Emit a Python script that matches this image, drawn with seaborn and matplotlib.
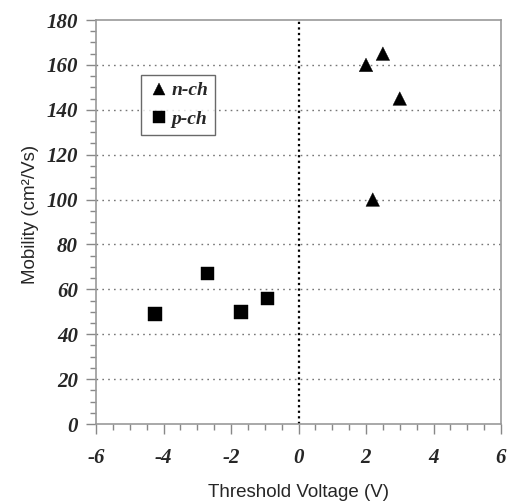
import matplotlib
matplotlib.use("Agg")
import matplotlib.pyplot as plt
import seaborn as sns
import pandas as pd
from matplotlib.ticker import MultipleLocator
from matplotlib.font_manager import FontProperties

# Data
n_vt = [2.0, 2.5, 3.0, 2.2]
n_mu = [160, 165, 145, 100]
p_vt = [-4.25, -2.7, -1.7, -0.92]
p_mu = [49, 67, 50, 56]
series_names = ["n-ch", "p-ch"]
x_ticks = [-6, -4, -2, 0, 2, 4, 6]
y_ticks = [0, 20, 40, 60, 80, 100, 120, 140, 160, 180]

df = pd.DataFrame({
    "vt": n_vt + p_vt,
    "mu": n_mu + p_mu,
    "type": [series_names[0]] * len(n_vt) + [series_names[1]] * len(p_vt),
})

sns.set_style("white")
fig = plt.figure(figsize=(5.09, 5.03), dpi=100)
ax = fig.add_axes([96 / 509, 1 - 424 / 503, 405 / 509, 404 / 503])

# grid lines
for yv in y_ticks[1:-1]:
    ax.axhline(yv, color="#777777", lw=1.0, ls=(0, (1.2, 3.0)), zorder=1)
ax.axvline(0, color="black", lw=1.6, ls=(0, (1, 1.5)), zorder=1)

sns.scatterplot(data=df, x="vt", y="mu", style="type", hue="type",
                markers={"n-ch": "^", "p-ch": "s"},
                palette={"n-ch": "black", "p-ch": "black"},
                s=95, edgecolor="black", linewidth=0.3, ax=ax, zorder=3,
                legend=True)

ax.set_xlim(-6, 6)
ax.set_ylim(0, 180)
ax.set_xticks(x_ticks)
ax.set_yticks(y_ticks)
ax.xaxis.set_minor_locator(MultipleLocator(0.5))
ax.yaxis.set_minor_locator(MultipleLocator(5))
ax.set_xticklabels([str(v) for v in x_ticks])
ax.set_yticklabels([str(v) for v in y_ticks])

tick_fp = FontProperties(family="Liberation Serif", style="italic", weight="bold", size=15)
for lab in ax.get_xticklabels() + ax.get_yticklabels():
    lab.set_fontproperties(tick_fp)

ax.tick_params(axis="both", which="both", bottom=True, left=True, top=False, right=False)
ax.tick_params(axis="both", which="major", direction="out", length=7,
               width=1, color="#888888")
ax.tick_params(axis="both", which="minor", direction="out", length=4,
               width=1, color="#888888")
ax.tick_params(axis="x", which="major", pad=10)
ax.tick_params(axis="y", which="major", pad=6)

for sp in ax.spines.values():
    sp.set_color("#999999")
    sp.set_linewidth(1.2)

ax.set_xlabel("Threshold Voltage (V)", family="Liberation Sans", size=13.5, labelpad=12)
ax.set_ylabel("Mobility (cm\u00b2/Vs)", family="Liberation Sans", size=13.5)
ax.yaxis.set_label_coords((39 - 96) / 405, (424 - 214) / 404)

leg = ax.legend(loc="upper left", bbox_to_anchor=((141 - 96) / 405, (424 - 75) / 404),
                borderaxespad=0,
                frameon=True, fancybox=False, edgecolor="#444444",
                prop=FontProperties(family="Liberation Serif", style="italic",
                                    weight="bold", size=14),
                handletextpad=0.0, borderpad=0.35, labelspacing=0.55,
                handlelength=1.2, markerscale=0.9)
leg.get_frame().set_linewidth(1.0)

fig.savefig("out.png", dpi=100)
